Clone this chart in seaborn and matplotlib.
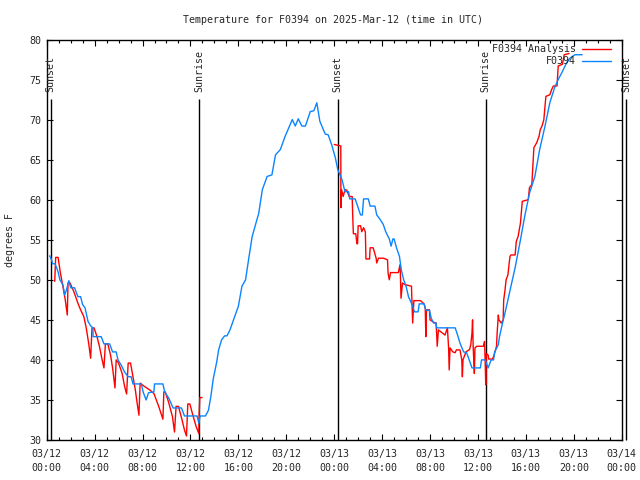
import numpy as np
import pandas as pd
import seaborn as sns
import matplotlib
matplotlib.use("Agg")
import matplotlib.pyplot as plt
from matplotlib.ticker import MultipleLocator
from matplotlib.lines import Line2D

# hours since 2025-03-12 00:00 UTC
obs_hours = [0.25, 0.4, 0.5, 0.7, 0.95, 1.1, 1.35, 1.5, 1.65, 1.85, 2.0, 2.33, 2.6, 2.83, 3.0,
             3.2, 3.45, 3.67, 3.86, 3.87, 4.55, 4.78, 5.25, 5.5, 5.8, 5.95, 6.2, 6.5, 6.8, 7.05,
             7.2, 7.9, 8.05, 8.3, 8.5, 8.95, 9.0, 9.7, 9.85, 10.2, 10.55, 11.25, 11.5, 12.55, 12.7,
             12.8, 13.25, 13.5, 13.7, 13.9, 14.2, 14.35, 14.6, 14.85, 15.05, 15.3, 15.6, 16.0, 16.3,
             16.6, 16.85, 17.15, 17.4, 17.7, 18.0, 18.4, 18.8, 19.1, 19.5, 19.9, 20.5, 20.75, 21.0,
             21.3, 21.6, 22.0, 22.3, 22.55, 22.8, 23.25, 23.5, 23.8, 24.1, 24.3, 24.65, 24.9, 25.2,
             25.3, 25.75, 26.0, 26.2, 26.35, 26.45, 26.85, 27.0, 27.4, 27.55, 27.85, 28.1, 28.3,
             28.6, 28.75, 28.9, 29.0, 29.2, 29.45, 29.6, 29.8, 30.0, 30.2, 30.5, 30.7, 31.0, 31.1,
             31.5, 31.65, 31.95, 32.1, 32.3, 32.5, 32.55, 34.1, 34.3, 34.5, 34.8, 35.05, 35.2, 35.5,
             36.2, 36.3, 36.6, 36.85, 37.1, 37.3, 37.4, 37.7, 37.8, 38.05, 38.25, 38.5, 38.8, 39.1,
             39.55, 39.9, 40.3, 40.75, 41.15, 41.6, 42.0, 42.4, 42.7, 43.05, 43.4, 43.7, 44.1, 44.7]
obs_temp = [53.0, 52.5, 52.0, 52.0, 51.0, 50.0, 49.4, 48.1, 48.75, 49.9, 49.0, 49.0, 47.9, 47.9, 46.9,
            46.5, 44.8, 44.25, 44.0, 42.9, 42.9, 42.0, 42.0, 41.0, 41.0, 40.0, 39.4, 38.5, 37.9, 37.9,
            37.0, 37.0, 36.0, 35.0, 35.9, 36.0, 37.0, 37.0, 36.0, 35.2, 34.0, 34.0, 33.0, 33.0, 32.1,
            33.0, 33.0, 33.7, 35.4, 37.6, 39.8, 41.25, 42.5, 43.0, 43.0, 43.75, 45.0, 46.7, 49.2,
            50.0, 52.5, 55.4, 56.7, 58.3, 61.25, 62.9, 63.1, 65.6, 66.25, 67.9, 70.0, 69.2, 70.1,
            69.2, 69.2, 71.0, 71.1, 72.1, 69.8, 68.2, 68.1, 66.8, 65.2, 63.75, 62.5, 61.0, 61.0,
            60.1, 60.1, 59.0, 58.1, 58.1, 60.1, 60.1, 59.2, 59.2, 58.1, 57.5, 56.9, 56.0,
            55.1, 54.2, 55.1, 55.1, 54.0, 52.9, 51.25, 50.0, 49.2, 47.9, 46.9, 46.0, 46.0, 47.0,
            47.0, 46.2, 46.2, 45.2, 44.6, 44.6, 44.0, 44.0, 43.1, 42.1, 41.0, 40.9, 40.3, 39.0,
            39.0, 40.0, 40.0, 39.0, 40.0, 40.0, 41.0, 41.9, 42.9, 44.6, 45.8, 47.5, 49.5, 51.5,
            55.0, 57.9, 60.8, 62.9, 66.25, 69.2, 72.1, 74.0, 75.0, 76.0, 77.1, 77.7, 78.1, 78.1]

# analysis, first day piece
ana1_hours = [0.67, 0.75, 0.95, 1.15, 1.35, 1.55, 1.72, 1.78, 1.95, 2.27, 2.6, 2.83, 3.1, 3.3, 3.5,
              3.67, 3.78, 3.95, 4.2, 4.4, 4.6, 4.78, 4.9, 5.1, 5.33, 5.5, 5.7, 5.8, 6.0, 6.3, 6.5,
              6.67, 6.8, 7.0, 7.2, 7.4, 7.55, 7.7, 7.8, 8.15, 8.6, 8.95, 9.35, 9.7, 9.78, 9.9, 10.2,
              10.5, 10.67, 10.8, 11.0, 11.3, 11.5, 11.67, 11.78, 11.95, 12.2, 12.47, 12.7, 12.72,
              12.78, 12.97]
ana1_temp = [49.8, 52.8, 52.8, 50.8, 49.2, 47.5, 45.6, 49.6, 49.6, 48.5, 47.1, 46.25, 45.4, 44.0, 42.1,
             40.2, 44.0, 44.0, 42.9, 41.7, 40.2, 39.0, 42.0, 42.0, 40.6, 39.0, 36.5, 40.0, 39.6, 38.3, 36.7,
             35.75, 39.6, 39.6, 37.9, 36.25, 34.6, 33.1, 37.1, 36.7, 36.25, 35.8, 34.2, 32.6, 36.0, 36.0, 34.6,
             32.9, 31.0, 34.2, 34.2, 32.5, 31.25, 30.5, 34.5, 34.5, 33.1, 31.7, 30.8, 32.9,
             35.3, 35.3]

# analysis, second day piece
ana2_hours = [24.0, 24.55, 24.56, 24.62, 24.75, 24.9, 25.05, 25.25, 25.5, 25.55, 25.6, 25.8, 25.9, 25.95,
              26.0, 26.2, 26.3, 26.45, 26.6, 26.65, 26.95, 27.0, 27.25, 27.35, 27.5, 27.55, 27.7, 28.1,
              28.45, 28.5, 28.6, 28.7, 29.35, 29.5, 29.58, 29.7, 29.9, 30.45, 30.55, 30.65, 31.2, 31.5,
              31.6, 31.65, 31.7, 31.95, 32.0, 32.3, 32.5, 32.55, 32.6, 32.7, 33.25, 33.45, 33.55, 33.6,
              33.67, 33.9, 34.1, 34.2, 34.5, 34.65, 34.7, 34.75, 35.0, 35.3, 35.4, 35.5, 35.55, 35.6,
              35.65, 35.7, 35.75, 35.9, 36.45, 36.55, 36.6, 36.65, 36.7, 36.85, 36.9, 37.2, 37.3, 37.4,
              37.55, 37.6, 37.7, 37.75, 37.95, 38.1, 38.15, 38.25, 38.35, 38.5, 38.67, 38.75, 39.1, 39.2,
              39.35, 39.55, 39.7, 40.2, 40.3, 40.5, 40.55, 40.67, 40.9, 41.1, 41.2, 41.35, 41.5, 41.67,
              42.0, 42.15, 42.3, 42.6, 42.7, 43.05, 43.2, 43.6]
ana2_temp = [66.9, 66.7, 59.0, 61.25, 60.4, 61.25, 61.2, 60.4, 60.4, 57.8, 55.75, 55.75, 54.5, 54.5,
             56.75, 56.75, 56.0, 56.5, 56.0, 52.6, 52.6, 54.0, 54.0, 53.5, 52.7, 52.1, 52.7, 52.7,
             52.5, 50.8, 50.0, 50.9, 50.9, 51.9, 47.7, 49.6, 49.4, 49.2, 44.6, 47.4, 47.4, 47.0,
             46.5, 42.9, 46.25, 46.25, 45.0, 44.7, 44.6, 43.3, 41.7, 43.75, 43.1, 44.0, 41.5, 38.75,
             41.5, 41.0, 40.9, 41.25, 41.25, 40.0, 37.9, 40.0, 41.0, 41.3, 41.9, 43.3, 45.0, 41.7,
             40.0, 38.3, 41.5, 41.7, 41.7, 42.3, 40.0, 36.9, 40.8, 40.6, 40.1, 40.1, 40.4, 40.9,
             41.7, 43.3, 45.6, 45.0, 44.6, 45.0, 47.5, 48.6, 50.0, 50.6, 52.9, 53.1, 53.1, 54.8,
             55.4, 57.1, 59.8, 60.0, 61.5, 61.9, 63.3, 66.5, 67.1, 67.9, 68.75, 69.2, 70.0, 72.9,
             73.1, 73.75, 74.2, 74.2, 76.7, 76.9, 78.1, 78.25]

sun_hours = [0.33, 12.72, 24.3, 36.65, 48.35]
sun_labels = ["Sunset", "Sunrise", "Sunset", "Sunrise", "Sunset"]

tick_hours = list(range(0, 49, 4))
tick_labels = ["03/12\n00:00", "03/12\n04:00", "03/12\n08:00", "03/12\n12:00", "03/12\n16:00",
               "03/12\n20:00", "03/13\n00:00", "03/13\n04:00", "03/13\n08:00", "03/13\n12:00",
               "03/13\n16:00", "03/13\n20:00", "03/14\n00:00"]

RED = "#ff0000"
BLUE = "#0a84ff"

sns.set_style("ticks")
plt.rcParams['font.family'] = ['DejaVu Sans Mono']
plt.rcParams['font.size'] = 7.2

obs = pd.DataFrame({"hours": obs_hours, "temp": obs_temp})
ana = pd.DataFrame({
    "hours": ana1_hours + ana2_hours,
    "temp": ana1_temp + ana2_temp,
    "piece": [1] * len(ana1_hours) + [2] * len(ana2_hours),
})

fig = plt.figure(figsize=(6.4, 4.8), dpi=100)
ax = fig.add_axes([46.7 / 640, 40 / 480, (621.7 - 46.7) / 640, (440 - 39.5) / 480])

sns.lineplot(data=ana, x="hours", y="temp", units="piece", estimator=None, sort=False,
             color=RED, lw=1.0, ax=ax)
sns.lineplot(data=obs, x="hours", y="temp", estimator=None, sort=False,
             color=BLUE, lw=1.0, ax=ax)

# sunrise / sunset markers
ax.vlines(sun_hours, 30, 72.6, color="black", lw=1.0, clip_on=False, zorder=1)
for h, lab in zip(sun_hours, sun_labels):
    ax.text(h, 73.5, lab, rotation=90, ha="center", va="bottom", clip_on=False)

ax.set_xlim(0, 48)
ax.set_ylim(30, 80)
ax.set_xticks(tick_hours)
ax.set_xticklabels(tick_labels, linespacing=1.55)
ax.xaxis.set_minor_locator(MultipleLocator(1))
ax.set_yticks(range(30, 81, 5))
ax.tick_params(which="both", direction="in", top=True, right=True, width=0.8, color="black")
ax.tick_params(which="major", length=4.5)
ax.tick_params(which="minor", length=2.5)
ax.tick_params(axis="x", pad=6.5)
ax.tick_params(axis="y", pad=4)
for s in ax.spines.values():
    s.set_visible(True)
    s.set_linewidth(1.0)
    s.set_color("black")
ax.set_xlabel("")
ax.set_ylabel("")

fig.text(333 / 640, 1 - 20 / 480, "Temperature for F0394 on 2025-Mar-12 (time in UTC)",
         ha="center", va="center")
fig.text(10 / 640, 0.5, "degrees F", rotation=90, ha="center", va="center")

handles = [Line2D([], [], color=RED, lw=1.0), Line2D([], [], color=BLUE, lw=1.0)]
ax.legend(handles, ["F0394 Analysis", "F0394"], loc="upper right",
          bbox_to_anchor=(611 / 640, (480 - 44.5) / 480), bbox_transform=fig.transFigure,
          frameon=False, markerfirst=False, handlelength=2.9, handletextpad=0.6,
          labelspacing=0.2, borderpad=0, borderaxespad=0)

fig.savefig("out.png", dpi=100)
